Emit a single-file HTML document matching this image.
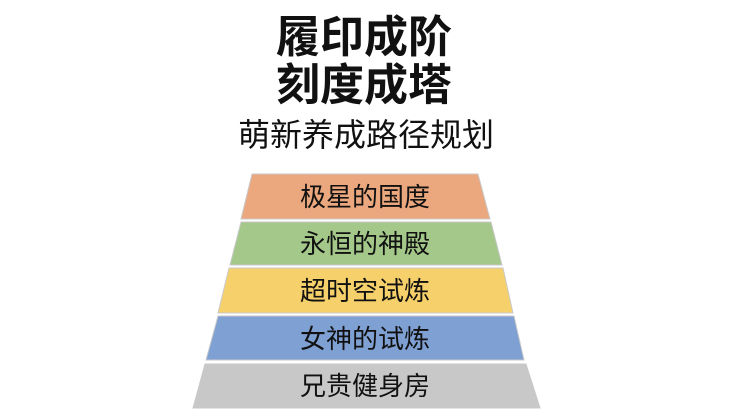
<!DOCTYPE html>
<html><head><meta charset="utf-8"><style>
html,body{margin:0;padding:0;background:#fff;}
svg{display:block}
text{font-family:"Liberation Sans","Noto Sans CJK SC",sans-serif;}
</style></head><body>
<svg width="735" height="413" viewBox="0 0 735 413">
<text x="364" y="52" font-size="44" font-weight="bold" text-anchor="middle" fill="#111">履印成阶</text>
<text x="364" y="100" font-size="44" font-weight="bold" text-anchor="middle" fill="#111">刻度成塔</text>
<text x="366" y="146" font-size="32" text-anchor="middle" fill="#111">萌新养成路径规划</text>
<g stroke="#c9c9c9" stroke-width="1">
<polygon points="252,174 478,174 490,219 241,219" fill="#eba77d"/>
<polygon points="241,222 491,222 502,265 230,265" fill="#a3c889"/>
<polygon points="229,268 503,268 513,313 218,313" fill="#f6d06a"/>
<polygon points="218,316 514,316 524,360 206,360" fill="#7fa0d2"/>
<polygon points="205,364 526,364 540,408 193,408" fill="#c8c8c8"/>
</g>
<g font-size="26" text-anchor="middle" fill="#111">
<text x="365" y="206">极星的国度</text>
<text x="365" y="253">永恒的神殿</text>
<text x="365" y="300">超时空试炼</text>
<text x="365" y="348">女神的试炼</text>
<text x="365" y="395">兄贵健身房</text>
</g>
</svg>
</body></html>
